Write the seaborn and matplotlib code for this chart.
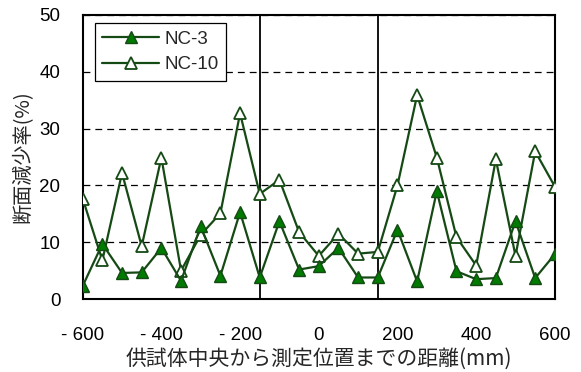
import numpy as np
import pandas as pd
import matplotlib
matplotlib.use("Agg")
import matplotlib.pyplot as plt
import seaborn as sns
from matplotlib.lines import Line2D

# Measurement positions along the specimen (mm from centre)
positions = [-600, -550, -500, -450, -400, -350, -300, -250, -200, -150,
             -100, -50, 0, 50, 100, 150, 200, 250, 300, 350, 400, 450, 500, 550, 600]

# Cross-section loss ratio (%)
nc3 = [2.3, 9.7, 4.6, 4.7, 9.0, 3.2, 12.8, 4.1, 15.3, 3.8,
       13.7, 5.2, 5.8, 9.0, 3.8, 3.8, 12.2, 3.1, 19.0, 4.9, 3.5, 3.7, 13.7, 3.7, 7.9]
nc10 = [17.7, 6.8, 22.2, 9.3, 24.9, 5.0, 11.3, 15.1, 32.7, 18.5,
        21.0, 11.8, 7.6, 11.5, 8.0, 8.3, 20.0, 35.9, 24.9, 10.9, 5.9, 24.6, 7.6, 26.0, 19.8]

series_names = ["NC-3", "NC-10"]
boundaries = [-150, 150]
x_ticks = [-600, -400, -200, 0, 200, 400, 600]
x_tick_labels = ["- 600", "- 400", "- 200", "0", "200", "400", "600"]
y_ticks = [0, 10, 20, 30, 40, 50]

sns.set_style("white")
plt.rcParams["font.family"] = ["Liberation Sans", "Noto Sans CJK JP", "DejaVu Sans"]
cjk = ["Noto Sans CJK JP", "DejaVu Sans"]

line_col = "#154a15"
fill_col = "#007a00"

df3 = pd.DataFrame({"x": positions, "y": nc3})
df10 = pd.DataFrame({"x": positions, "y": nc10})

fig = plt.figure(figsize=(5.81, 3.72), dpi=100)
ax = fig.add_axes([0.1423, 0.196, 0.8127, 0.7637])

sns.lineplot(data=df10, x="x", y="y", ax=ax, color=line_col, lw=1.6,
             marker="^", markersize=9, markerfacecolor="white",
             markeredgecolor=line_col, markeredgewidth=1.3, zorder=3)
sns.lineplot(data=df3, x="x", y="y", ax=ax, color=line_col, lw=1.6,
             marker="^", markersize=9, markerfacecolor=fill_col,
             markeredgecolor=line_col, markeredgewidth=1.0, zorder=4)

for b in boundaries:
    ax.axvline(b, color="black", lw=1.3, zorder=2)

ax.set_xlim(-600, 600)
ax.set_ylim(0, 50)
ax.set_xticks(x_ticks)
ax.set_xticklabels(x_tick_labels)
ax.set_yticks(y_ticks)
ax.set_yticklabels([str(t) for t in y_ticks])

ax.yaxis.grid(True, linestyle=(0, (5.5, 4)), color="black", lw=0.9)
ax.set_axisbelow(True)
ax.tick_params(axis="both", direction="in", length=4, width=1, labelsize=13.5,
               colors="black")
ax.tick_params(axis="x", pad=20)
ax.tick_params(axis="y", pad=16)
for sp in ax.spines.values():
    sp.set_visible(True)
    sp.set_color("black")
    sp.set_linewidth(1.5)

ax.set_xlabel("供試体中央から測定位置までの距離(mm)", fontsize=15,
              family=cjk, labelpad=3)
ax.set_ylabel("断面減少率(%)", fontsize=14.5, family=cjk, labelpad=4)

handles = [
    Line2D([], [], color=line_col, lw=1.6, marker="^", markersize=9,
           markerfacecolor=fill_col, markeredgecolor=line_col),
    Line2D([], [], color=line_col, lw=1.6, marker="^", markersize=9,
           markerfacecolor="white", markeredgecolor=line_col, markeredgewidth=1.3),
]
leg = ax.legend(handles, series_names, loc="upper left", bbox_to_anchor=(0.026, 0.972),
                fontsize=13.5, frameon=True, fancybox=False, framealpha=1,
                edgecolor="black", borderpad=0.4, handlelength=3.0,
                handletextpad=0.3, labelspacing=0.45, borderaxespad=0)
leg.get_frame().set_linewidth(0.9)

fig.savefig("out.png", dpi=100)
